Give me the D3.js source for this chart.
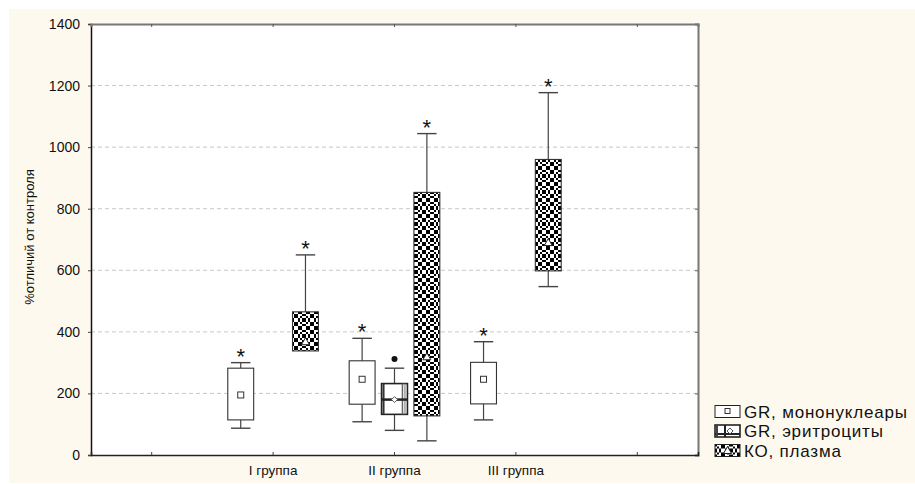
<!DOCTYPE html>
<html>
<head>
<meta charset="utf-8">
<script src="https://cdn.jsdelivr.net/npm/d3@7"></script>
<style>
  body { margin: 0; background: #fff; }
  text { font-family: "Liberation Sans", Arial, sans-serif; fill: #111; }
</style>
</head>
<body>
<svg id="chart" width="915" height="484"></svg>
<script>
// ---- data ----
const groups = ["I группа", "II группа", "III группа"];
const series = ["GR, мононуклеары", "GR, эритроциты", "КО, плазма"];
const yTicks = [0, 200, 400, 600, 800, 1000, 1200, 1400];

// [min, lower box, marker, upper box, max] per group
const monoStats   = [[87, 114, 195, 282, 300], [108, 165, 246, 306, 379], [114, 166, 246, 301, 368]];
const erythStats  = [null, [80, 132, 180, 232, 282], null];
const plasmaStats = [[338, 338, 368, 465, 650], [46, 127, 319, 853, 1044], [547, 598, 690, 960, 1177]];
const erythOutliers = [[], [312], []];
const monoStars   = [true, true, true];
const erythStars  = [false, false, false];
const plasmaStars = [true, true, true];

// ---- layout ----
const svg = d3.select("#chart");
const plot = { left: 91, right: 698, top: 24, bottom: 455 };

svg.append("rect").attr("x", 9).attr("y", 9).attr("width", 906).attr("height", 474).attr("fill", "#fef9ee");
svg.append("rect").attr("x", plot.left).attr("y", plot.top)
  .attr("width", plot.right - plot.left).attr("height", plot.bottom - plot.top).attr("fill", "#fff");

const slotLabels = ["", ...groups, ""];
const x0 = d3.scaleBand().domain(d3.range(slotLabels.length)).range([plot.left, plot.right]).padding(0);
const x1 = d3.scaleBand().domain(series).range([x0.bandwidth() * 0.1, x0.bandwidth() * 0.9]).padding(0);
const y = d3.scaleLinear().domain([0, 1400]).range([plot.bottom, plot.top]);

const boxW = x1.bandwidth() * 0.8;
const capW = x1.bandwidth() * 0.6;

// ---- woven fill for the plasma boxes ----
const defs = svg.append("defs");
const cell = 2;
const motif = [
  "X.X..X.X",
  ".X.XX.X.",
  "X..XX..X",
  ".XX..XX.",
  ".XX..XX.",
  "X..XX..X",
  ".X.XX.X.",
  "X.X..X.X"
];
const pat = defs.append("pattern").attr("id", "weave").attr("patternUnits", "userSpaceOnUse")
  .attr("width", motif[0].length * cell).attr("height", motif.length * cell);
pat.append("rect").attr("width", motif[0].length * cell).attr("height", motif.length * cell).attr("fill", "#fff");
motif.forEach((row, r) => row.split("").forEach((c, k) => {
  if (c === "X") pat.append("rect").attr("x", k * cell).attr("y", r * cell).attr("width", cell).attr("height", cell).attr("fill", "#000");
}));

// ---- grid ----
svg.append("g").selectAll("line").data(yTicks.filter(v => v > 0 && v < 1400)).join("line")
  .attr("x1", plot.left).attr("x2", plot.right).attr("y1", d => y(d)).attr("y2", d => y(d))
  .attr("stroke", "#c8c8c8").attr("stroke-dasharray", "4,3").attr("stroke-width", 1);

// ---- axes ----
const yAxis = svg.append("g").attr("transform", `translate(${plot.left},0)`)
  .call(d3.axisLeft(y).tickValues(yTicks).tickSize(3).tickPadding(8).tickFormat(d3.format("d")));
yAxis.selectAll("text").attr("font-size", 14).attr("fill", "#111");
yAxis.selectAll("line").attr("stroke", "#444");
yAxis.select(".domain").attr("stroke", "#111").attr("stroke-width", 1.5);

const yAxisR = svg.append("g").attr("transform", `translate(${plot.right},0)`)
  .call(d3.axisLeft(y).tickValues(yTicks).tickSize(3).tickFormat(""));
yAxisR.selectAll("line").attr("stroke", "#666");
yAxisR.select(".domain").attr("stroke", "#777").attr("stroke-width", 2);

const xAxis = svg.append("g").attr("transform", `translate(0,${plot.bottom})`)
  .call(d3.axisTop(x0).tickSize(3).tickFormat(""));
xAxis.selectAll("line").attr("stroke", "#444");
xAxis.select(".domain").attr("stroke", "#222").attr("stroke-width", 1.5);
svg.append("g").selectAll("text").data(d3.range(slotLabels.length)).join("text")
  .attr("x", d => x0(d) + x0.bandwidth() / 2).attr("y", 475)
  .attr("text-anchor", "middle").attr("font-size", 13.5).text(d => slotLabels[d]);

const xAxisT = svg.append("g").attr("transform", `translate(0,${plot.top})`)
  .call(d3.axisBottom(x0).tickSize(3).tickFormat(""));
xAxisT.selectAll("line").attr("stroke", "#555");
xAxisT.select(".domain").attr("stroke", "#777").attr("stroke-width", 2);

svg.append("text").attr("transform", "translate(34,237) rotate(-90)")
  .attr("text-anchor", "middle").attr("font-size", 13).text("%отличий от контроля");

// ---- boxes ----
const statsBySeries = [monoStats, erythStats, plasmaStats];
const starsBySeries = [monoStars, erythStars, plasmaStars];
const rows = [];
series.forEach((s, si) => groups.forEach((g, gi) => {
  const st = statsBySeries[si][gi];
  if (!st) return;
  rows.push({ s, si, gi, min: st[0], lo: st[1], mid: st[2], hi: st[3], max: st[4],
    star: starsBySeries[si][gi], out: si === 1 ? erythOutliers[gi] : [] });
}));
const cx = d => x0(d.gi + 1) + x1(d.s) + x1.bandwidth() / 2;

const box = svg.append("g").selectAll("g").data(rows).join("g");
// whiskers
box.append("line").attr("x1", cx).attr("x2", cx).attr("y1", d => y(d.max)).attr("y2", d => y(d.hi))
  .attr("stroke", "#444").attr("stroke-width", 1.2);
box.append("line").attr("x1", cx).attr("x2", cx).attr("y1", d => y(d.lo)).attr("y2", d => y(d.min))
  .attr("stroke", "#444").attr("stroke-width", 1.2);
box.filter(d => d.max > d.hi).append("line").attr("x1", d => cx(d) - capW / 2).attr("x2", d => cx(d) + capW / 2)
  .attr("y1", d => y(d.max)).attr("y2", d => y(d.max)).attr("stroke", "#444").attr("stroke-width", 1.4);
box.filter(d => d.min < d.lo).append("line").attr("x1", d => cx(d) - capW / 2).attr("x2", d => cx(d) + capW / 2)
  .attr("y1", d => y(d.min)).attr("y2", d => y(d.min)).attr("stroke", "#444").attr("stroke-width", 1.4);
// body
box.append("rect").attr("x", d => cx(d) - boxW / 2).attr("y", d => y(d.hi))
  .attr("width", boxW).attr("height", d => y(d.lo) - y(d.hi))
  .attr("fill", d => d.si === 2 ? "url(#weave)" : "#fff")
  .attr("stroke", d => d.si === 1 ? "#222" : "#333").attr("stroke-width", d => d.si === 1 ? 1.6 : 1.1);

// erythrocyte box hatching
const ery = box.filter(d => d.si === 1);
ery.append("line").attr("x1", d => cx(d) - boxW / 2 + 2).attr("x2", d => cx(d) - boxW / 2 + 2)
  .attr("y1", d => y(d.hi)).attr("y2", d => y(d.lo)).attr("stroke", "#333").attr("stroke-width", 2);
ery.append("line").attr("x1", d => cx(d) + boxW / 2 - 5).attr("x2", d => cx(d) + boxW / 2 - 5)
  .attr("y1", d => y(d.hi)).attr("y2", d => y(d.lo)).attr("stroke", "#666").attr("stroke-width", 1.5);
ery.append("line").attr("x1", d => cx(d) + boxW / 2 - 2.5).attr("x2", d => cx(d) + boxW / 2 - 2.5)
  .attr("y1", d => y(d.hi)).attr("y2", d => y(d.lo)).attr("stroke", "#888").attr("stroke-width", 1.2);
ery.append("line").attr("x1", d => cx(d) - boxW / 2).attr("x2", d => cx(d) + boxW / 2)
  .attr("y1", d => y(d.mid)).attr("y2", d => y(d.mid)).attr("stroke", "#222").attr("stroke-width", 2.5);

// markers
box.filter(d => d.si === 0).append("rect").attr("x", d => cx(d) - 3).attr("y", d => y(d.mid) - 3)
  .attr("width", 6).attr("height", 6).attr("fill", "#fff").attr("stroke", "#333").attr("stroke-width", 1);
ery.append("path").attr("d", d => `M${cx(d)},${y(d.mid) - 3}l3,3l-3,3l-3,-3z`)
  .attr("fill", "#fff").attr("stroke", "#555").attr("stroke-width", 1);
box.filter(d => d.si === 2).append("path").attr("d", d => `M${cx(d)},${y(d.mid) - 4}l4,7h-8z`)
  .attr("fill", "#fff").attr("stroke", "#222").attr("stroke-width", 1);

// outliers
box.each(function (d) {
  d3.select(this).selectAll("circle").data(d.out).join("circle")
    .attr("cx", cx(d)).attr("cy", v => y(v)).attr("r", 3).attr("fill", "#111");
});

// significance stars
box.filter(d => d.star).append("text").attr("x", cx).attr("y", d => y(d.max) + 1)
  .attr("text-anchor", "middle").attr("font-size", 22).text("*");

// ---- legend ----
const legY = [411.5, 431, 450.5];
const leg = svg.append("g").selectAll("g").data(series).join("g")
  .attr("transform", (d, i) => `translate(715,${legY[i]})`);
leg.append("rect").attr("x", 0).attr("y", -6).attr("width", 25).attr("height", 12)
  .attr("fill", (d, i) => i === 2 ? "url(#weave)" : "#fff")
  .attr("stroke", "#222").attr("stroke-width", (d, i) => i === 1 ? 1.6 : 1);
leg.filter((d, i) => i === 0).append("rect").attr("x", 10).attr("y", -3).attr("width", 5).attr("height", 5)
  .attr("fill", "#fff").attr("stroke", "#333");
const le = leg.filter((d, i) => i === 1);
le.append("line").attr("x1", 10).attr("x2", 10).attr("y1", -6).attr("y2", 6).attr("stroke", "#222").attr("stroke-width", 2);
le.append("line").attr("x1", 0).attr("x2", 25).attr("y1", 3).attr("y2", 3).attr("stroke", "#222").attr("stroke-width", 2);
le.append("line").attr("x1", 2).attr("x2", 2).attr("y1", -6).attr("y2", 6).attr("stroke", "#444").attr("stroke-width", 2);
le.append("path").attr("d", "M15,-3l3,3l-3,3l-3,-3z").attr("fill", "#fff").attr("stroke", "#555");
leg.filter((d, i) => i === 2).append("path").attr("d", "M12.5,-4l4,7h-8z").attr("fill", "#fff").attr("stroke", "#222");
leg.append("text").attr("x", 29).attr("y", 0).attr("dy", "0.36em").attr("font-size", 17)
  .attr("letter-spacing", 0.8).text(d => d);
</script>
</body>
</html>
